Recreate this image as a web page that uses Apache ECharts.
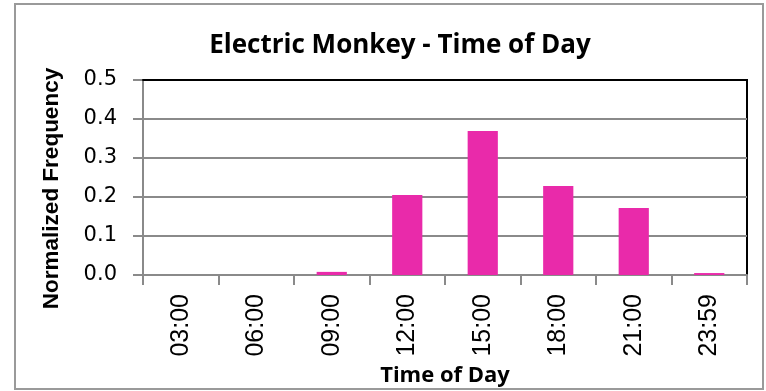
<!DOCTYPE html>
<html>
<head>
<meta charset="utf-8">
<script src="https://cdn.jsdelivr.net/npm/echarts@6/dist/echarts.min.js"></script>
<style>
  html, body { margin: 0; padding: 0; background: #fff; }
  #chart { width: 766px; height: 391px; }
</style>
</head>
<body>
<div id="chart"></div>
<script>
// Share of activity per three-hour slot
const categories = ['03:00', '06:00', '09:00', '12:00', '15:00', '18:00', '21:00', '23:59'];
const frequency = [0, 0, 0.008, 0.205, 0.369, 0.228, 0.172, 0.005];
const yTicks = [0, 0.1, 0.2, 0.3, 0.4, 0.5];

const gridGray = '#8a8a8a';

const chart = echarts.init(document.getElementById('chart'), null, { renderer: 'canvas' });
chart.setOption({
  animation: false,
  backgroundColor: '#fff',
  title: {
    text: 'Electric Monkey - Time of Day',
    left: 395,
    textAlign: 'center',
    top: 28,
    textStyle: { fontFamily: "'Open Sans', sans-serif", fontSize: 26, fontWeight: 'bold', color: '#000' }
  },
  graphic: [{
    type: 'rect',
    shape: { x: 15, y: 4, width: 748, height: 385 },
    style: { fill: 'none', stroke: '#9a9a9a', lineWidth: 2 },
    z: -1
  }],
  grid: {
    left: 143, right: 19, top: 80, bottom: 116,
    show: true, borderColor: '#000', borderWidth: 2, backgroundColor: 'transparent'
  },
  xAxis: [{
    type: 'category',
    data: categories,
    boundaryGap: true,
    name: 'Time of Day',
    nameLocation: 'middle',
    nameGap: 90,
    nameTextStyle: { fontFamily: "'Open Sans', sans-serif", fontSize: 22, fontWeight: 'bold', color: '#000' },
    axisLine: { lineStyle: { color: gridGray, width: 2 } },
    axisTick: { show: true, length: 10, lineStyle: { color: gridGray, width: 2 } },
    axisLabel: { rotate: 90, margin: 19, fontFamily: "'Liberation Sans', sans-serif", fontSize: 25, color: '#000' }
  }, {
    // black frame edge along the top of the plot
    type: 'category',
    data: categories,
    position: 'top',
    z: 5,
    axisLine: { show: true, lineStyle: { color: '#000', width: 2 } },
    axisTick: { show: false },
    axisLabel: { show: false }
  }],
  yAxis: {
    type: 'value',
    min: 0, max: 0.5, interval: 0.1,
    name: 'Normalized Frequency',
    nameLocation: 'middle',
    nameGap: 80,
    nameTextStyle: {
      fontFamily: "'Liberation Sans', Arial, sans-serif", fontSize: 22.5, fontWeight: 'bold', color: '#000',
      padding: [0, 22, 0, 0]
    },
    axisLine: { show: true, lineStyle: { color: gridGray, width: 2 } },
    axisTick: { show: true, length: 10, lineStyle: { color: gridGray, width: 2 } },
    splitLine: { lineStyle: { color: gridGray, width: 2 } },
    axisLabel: {
      margin: 26, fontFamily: "'DejaVu Sans', sans-serif", fontSize: 21, color: '#000',
      formatter: v => yTicks.includes(+v.toFixed(1)) ? v.toFixed(1) : ''
    }
  },
  series: [{
    type: 'bar',
    data: frequency,
    barWidth: '40%',
    itemStyle: { color: '#e92aaa' }
  }]
});
</script>
</body>
</html>
